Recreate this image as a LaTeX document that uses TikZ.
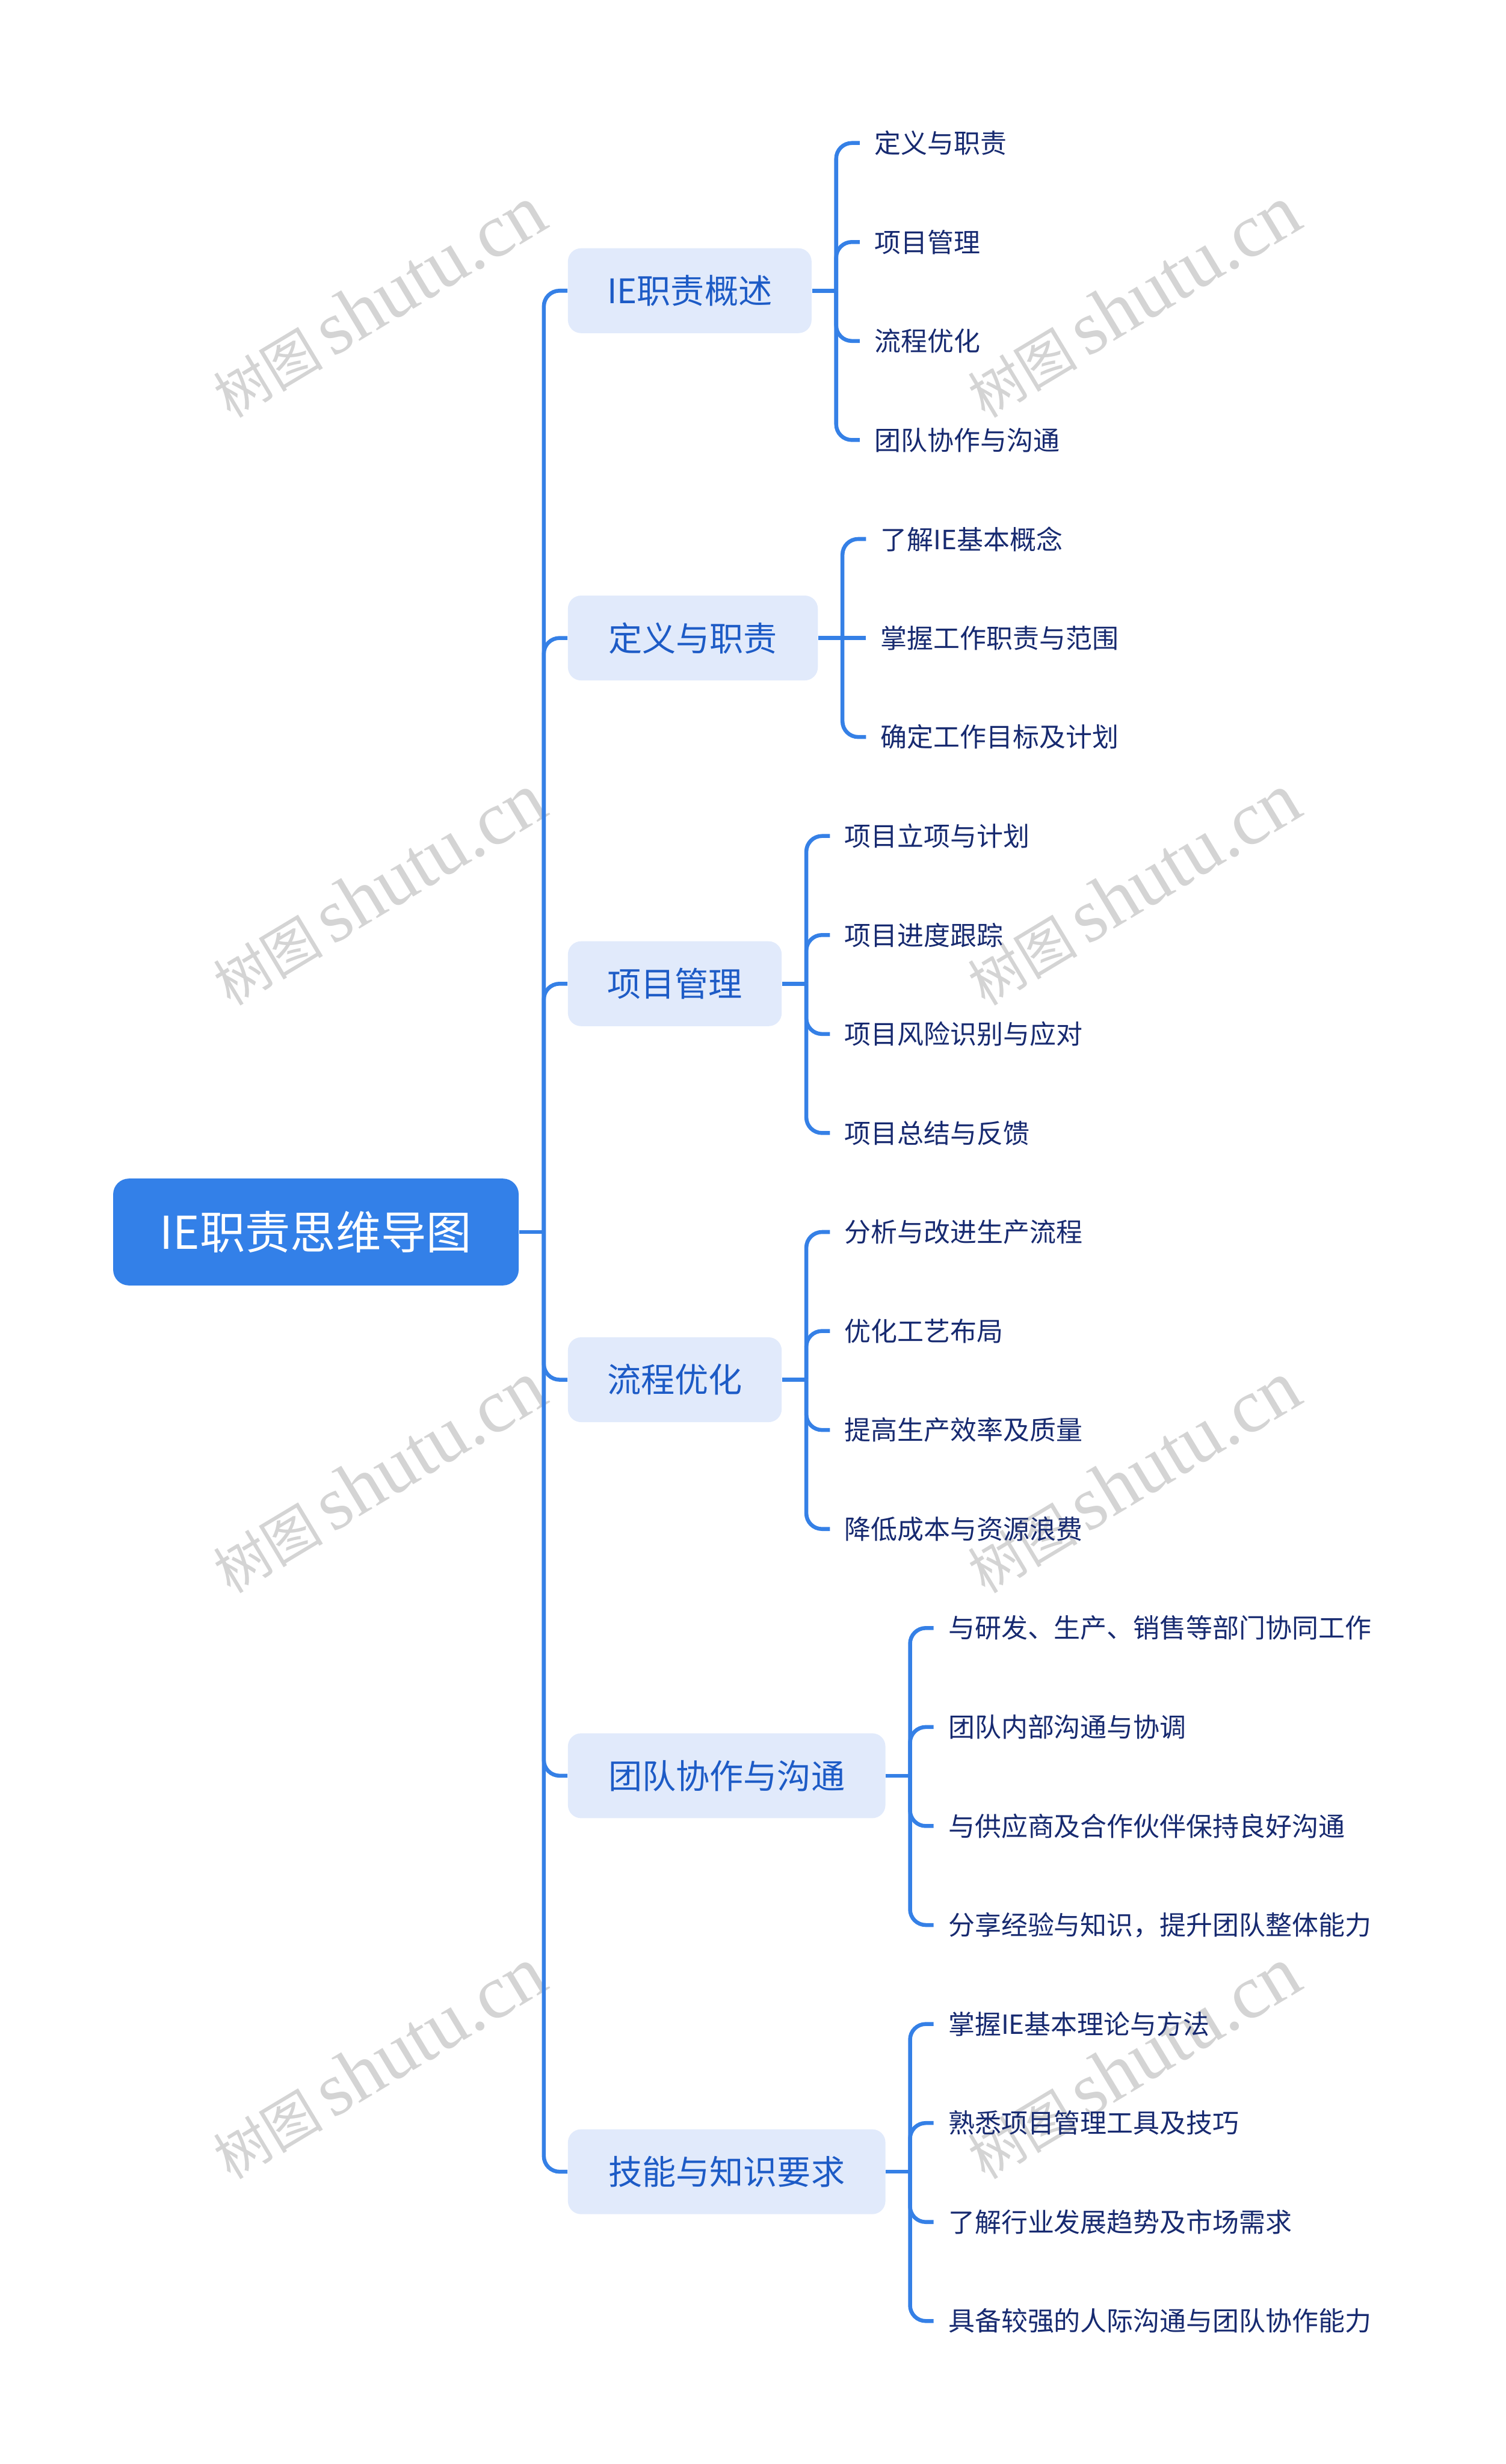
\documentclass[tikz,border=0pt]{standalone}
\usepackage{fontspec}
\setmainfont{Noto Sans CJK SC}
\newfontfamily\wmserif{Liberation Serif}
\definecolor{rootblue}{HTML}{3380E8}
\definecolor{linkblue}{HTML}{3580E6}
\definecolor{brfill}{HTML}{E1EAFB}
\definecolor{brtext}{HTML}{1D5BC6}
\definecolor{leaftext}{HTML}{172A70}
\definecolor{wmgray}{HTML}{D4D4D4}
\tikzset{
  rootbox/.style={fill=rootblue, rounded corners=6pt, minimum width=154.8pt, minimum height=40.8pt, inner sep=0pt, text=white, font=\fontsize{17.3pt}{20pt}\selectfont},
  brbox/.style={fill=brfill, rounded corners=5pt, minimum height=32.4pt, inner sep=0pt, anchor=west, text=brtext, font=\fontsize{12.9pt}{15pt}\selectfont},
  leafbox/.style={anchor=west, inner xsep=5.4pt, inner ysep=2pt, text=leaftext, font=\fontsize{10.1pt}{12pt}\selectfont},
  conn/.style={draw=linkblue, line width=1.5pt, rounded corners=6pt},
  wmark/.style={text=wmgray, rotate=31, font=\fontsize{21pt}{30pt}\selectfont, inner sep=0pt}
}
\begin{document}
\begin{tikzpicture}[x=0.6pt,y=-0.6pt]
\useasboundingbox (0,0) rectangle (958,1568);
% watermarks
\foreach \wx in {241,721}{
  \foreach \wy in {192,566,940,1313}{
    \node[wmark] (wm\wx\wy) at (\wx,\wy) {树图\,{\wmserif\fontsize{29pt}{30pt}\selectfont shutu.cn}};
  }
}
% root
\node[rootbox] (root) at (201,784) {IE职责思维导图};
\coordinate (trunk) at (346,784);
\draw[conn] (root.east) -- (trunk);
% branches
\node[brbox, minimum width=93pt] (b1) at (361,185) {IE职责概述};
\node[brbox, minimum width=95.4pt] (b2) at (361,406) {定义与职责};
\node[brbox, minimum width=81.6pt] (b3) at (361,626) {项目管理};
\node[brbox, minimum width=81.6pt] (b4) at (361,878) {流程优化};
\node[brbox, minimum width=121.2pt] (b5) at (361,1130) {团队协作与沟通};
\node[brbox, minimum width=121.2pt] (b6) at (361,1382) {技能与知识要求};
\foreach \b in {b1,b2,b3,b4,b5,b6}{
  \draw[conn] (trunk) |- (\b.west);
}
% leaves: group 1
\coordinate (v1) at (532,185);
\draw[conn] (b1.east) -- (v1);
\foreach \i/\y/\t in {1/91/定义与职责, 2/154/项目管理, 3/217/流程优化, 4/280/团队协作与沟通}{
  \node[leafbox] (l1\i) at (547,\y) {\t};
  \draw[conn] (v1) |- (l1\i.west);
}
% group 2
\coordinate (v2) at (536,406);
\draw[conn] (b2.east) -- (v2);
\node[leafbox] (l21) at (551,343) {了解IE基本概念};
\node[leafbox] (l22) at (551,406) {掌握工作职责与范围};
\node[leafbox] (l23) at (551,469) {确定工作目标及计划};
\draw[conn] (v2) |- (l21.west);
\draw[conn] (v2) -- (l22.west);
\draw[conn] (v2) |- (l23.west);
% group 3
\coordinate (v3) at (513,626);
\draw[conn] (b3.east) -- (v3);
\foreach \i/\y/\t in {1/532/项目立项与计划, 2/595/项目进度跟踪, 3/658/项目风险识别与应对, 4/721/项目总结与反馈}{
  \node[leafbox] (l3\i) at (528,\y) {\t};
  \draw[conn] (v3) |- (l3\i.west);
}
% group 4
\coordinate (v4) at (513,878);
\draw[conn] (b4.east) -- (v4);
\foreach \i/\y/\t in {1/784/分析与改进生产流程, 2/847/优化工艺布局, 3/910/提高生产效率及质量, 4/973/降低成本与资源浪费}{
  \node[leafbox] (l4\i) at (528,\y) {\t};
  \draw[conn] (v4) |- (l4\i.west);
}
% group 5
\coordinate (v5) at (579,1130);
\draw[conn] (b5.east) -- (v5);
\foreach \i/\y/\t in {1/1036/与研发、生产、销售等部门协同工作, 2/1099/团队内部沟通与协调, 3/1162/与供应商及合作伙伴保持良好沟通, 4/1225/分享经验与知识，提升团队整体能力}{
  \node[leafbox] (l5\i) at (594,\y) {\t};
  \draw[conn] (v5) |- (l5\i.west);
}
% group 6
\coordinate (v6) at (579,1382);
\draw[conn] (b6.east) -- (v6);
\foreach \i/\y/\t in {1/1288/掌握IE基本理论与方法, 2/1351/熟悉项目管理工具及技巧, 3/1414/了解行业发展趋势及市场需求, 4/1477/具备较强的人际沟通与团队协作能力}{
  \node[leafbox] (l6\i) at (594,\y) {\t};
  \draw[conn] (v6) |- (l6\i.west);
}
\end{tikzpicture}
\end{document}
